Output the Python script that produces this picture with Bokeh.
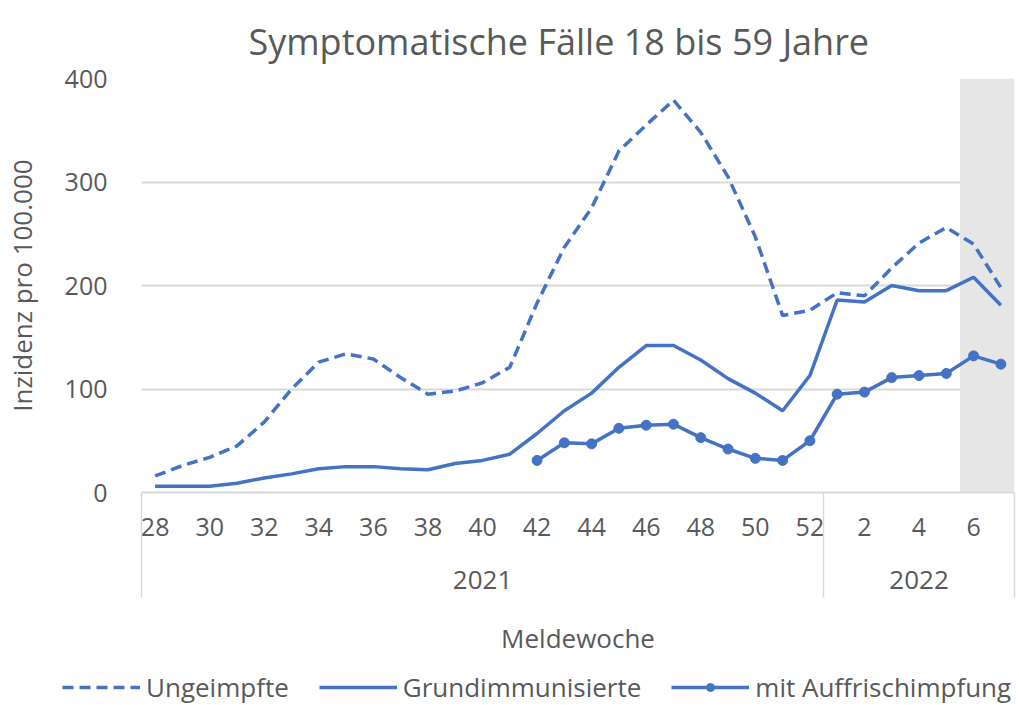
import numpy as np
from bokeh.plotting import figure
from bokeh.layouts import column
from bokeh.models import (Range1d, LinearAxis, FixedTicker, BoxAnnotation,
                          Legend, LegendItem, ColumnDataSource)
from bokeh.embed import file_html
from bokeh.resources import INLINE

# ---------------- data ----------------
weeks = [28, 29, 30, 31, 32, 33, 34, 35, 36, 37, 38, 39, 40, 41, 42, 43, 44, 45,
         46, 47, 48, 49, 50, 51, 52, 1, 2, 3, 4, 5, 6, 7]
years = ["2021"] * 25 + ["2022"] * 7
ungeimpfte = [16, 26, 34, 45, 68, 100, 126, 134, 129, 111, 95, 98, 106, 121,
              183, 237, 275, 330, 355, 379, 348, 305, 247, 171, 176, 193,
              190, 217, 241, 256, 240, 198]
grundimmunisierte = [6, 6, 6, 9, 14, 18, 23, 25, 25, 23, 22, 28, 31, 37,
                     57, 79, 96, 121, 142, 142, 128, 110, 96, 79, 113, 186,
                     184, 200, 195, 195, 208, 181]
# booster series starts at week 42
auffrisch = [None] * 14 + [31, 48, 47, 62, 65, 66, 53, 42, 33, 31, 50, 95,
                           97, 111, 113, 115, 132, 124]
shaded_weeks = [("2022", 6), ("2022", 7)]
y_ticks = [0, 100, 200, 300, 400]

title = "Symptomatische Fälle 18 bis 59 Jahre"
y_label = "Inzidenz pro 100.000"
x_label = "Meldewoche"
names = ["Ungeimpfte", "Grundimmunisierte", "mit Auffrischimpfung"]

# ---------------- styling ----------------
BLUE = "#4472C4"
TXT = "#595959"
GRID = "#D9D9D9"
FONT = "Open Sans"

idx = list(range(len(weeks)))
n = len(weeks)

p = figure(frame_width=873, frame_height=414,
           min_border_left=139, min_border_right=7,
           min_border_top=78, min_border_bottom=173,
           x_range=Range1d(-0.5, n - 0.5), y_range=Range1d(0, 400),
           output_backend="svg", toolbar_location=None, title=title)
p.outline_line_color = None
p.background_fill_color = "white"
p.frame_align = False

p.title.text_font = FONT
p.title.text_font_size = "36px"
p.title.text_font_style = "normal"
p.title.text_color = TXT
p.title.align = "left"
p.title.offset = 107
p.title.standoff = 26

# grid
p.xgrid.grid_line_color = None
p.ygrid.grid_line_color = GRID
p.ygrid.grid_line_width = 2
p.ygrid.ticker = FixedTicker(ticks=y_ticks)

# shaded region
sh = [i for i in idx if (years[i], weeks[i]) in shaded_weeks]
p.add_layout(BoxAnnotation(left=min(sh) - 0.5, right=max(sh) + 0.5,
                           fill_color="#E6E6E6", fill_alpha=1.0,
                           line_color=None, level="underlay"))

# y axis
p.yaxis.ticker = FixedTicker(ticks=y_ticks)
p.yaxis.axis_line_color = None
p.yaxis.major_tick_line_color = None
p.yaxis.major_tick_out = 0
p.yaxis.minor_tick_line_color = None
p.yaxis.minor_tick_out = 0
p.yaxis.major_label_text_font = FONT
p.yaxis.major_label_text_font_size = "25px"
p.yaxis.major_label_text_color = TXT
p.yaxis.major_label_standoff = 34
p.yaxis.axis_label = y_label
p.yaxis.axis_label_text_font = FONT
p.yaxis.axis_label_text_font_size = "26px"
p.yaxis.axis_label_text_font_style = "normal"
p.yaxis.axis_label_text_color = TXT
p.yaxis.axis_label_standoff = 22

# x axis: weeks
even = [i for i in idx if weeks[i] % 2 == 0]
boundaries = [-0.5] + [i + 0.5 for i in idx[:-1] if years[i] != years[i + 1]] + [n - 0.5]
xa = p.xaxis[0]
xa.ticker = FixedTicker(ticks=even)
xa.major_label_overrides = {i: str(weeks[i]) for i in even}
xa.axis_line_color = GRID
xa.axis_line_width = 2
xa.major_tick_line_color = None
xa.major_tick_out = 0
xa.minor_tick_line_color = None
xa.minor_tick_out = 0
xa.major_label_text_font = FONT
xa.major_label_text_font_size = "25px"
xa.major_label_text_color = TXT
xa.major_label_standoff = 25

# x axis: years (its minor ticks are the group separators)
yrs = sorted(set(years))
centers = {}
for y in yrs:
    ii = [i for i in idx if years[i] == y]
    centers[(min(ii) + max(ii)) / 2] = y
ya = LinearAxis(ticker=FixedTicker(ticks=list(centers.keys()), minor_ticks=boundaries),
                major_label_overrides=centers)
ya.axis_line_color = None
ya.major_tick_line_color = None
ya.major_tick_out = 0
ya.major_tick_in = 0
ya.minor_tick_line_color = GRID
ya.minor_tick_line_width = 1.5
ya.minor_tick_in = 46
ya.minor_tick_out = 59
ya.major_label_text_font = FONT
ya.major_label_text_font_size = "26px"
ya.major_label_text_color = TXT
ya.major_label_standoff = -27
ya.axis_label = x_label
ya.axis_label_text_font = FONT
ya.axis_label_text_font_size = "26px"
ya.axis_label_text_font_style = "normal"
ya.axis_label_text_color = TXT
ya.axis_label_standoff = 28
p.add_layout(ya, "below")

# series
src = ColumnDataSource(dict(x=idx, u=ungeimpfte, g=grundimmunisierte,
                            a=[np.nan if v is None else v for v in auffrisch]))
line_u = dict(line_color=BLUE, line_width=3.5, line_dash="11 6")
line_s = dict(line_color=BLUE, line_width=3.5)
mark = dict(size=10, marker="circle", fill_color=BLUE, line_color=BLUE)
p.line("x", "u", source=src, **line_u)
p.line("x", "g", source=src, **line_s)
p.line("x", "a", source=src, **line_s)
p.scatter("x", "a", source=src, **mark)

# legend strip below the chart (same series, ranges chosen so only the legend shows)
lg = figure(width=1019, height=40, min_border=0, x_axis_type=None, y_axis_type=None,
            x_range=Range1d(-0.5, n - 0.5), y_range=Range1d(-2, -1),
            output_backend="svg", toolbar_location=None)
lg.outline_line_color = None
lg.grid.visible = False
lg.frame_align = False
l1 = lg.line("x", "u", source=src, **line_u)
l2 = lg.line("x", "g", source=src, **line_s)
l3 = lg.line("x", "a", source=src, **line_s)
l3m = lg.scatter("x", "a", source=src, **mark)
legend = Legend(items=[LegendItem(label=names[0], renderers=[l1]),
                       LegendItem(label=names[1], renderers=[l2]),
                       LegendItem(label=names[2], renderers=[l3, l3m])],
                orientation="horizontal", location=(62, 0),
                label_text_font=FONT, label_text_font_size="26px",
                label_text_color=TXT, glyph_width=78, glyph_height=20,
                spacing=30, label_standoff=6, border_line_color=None,
                padding=0, margin=0, background_fill_alpha=0)
lg.add_layout(legend)

open("out.html", "w").write(file_html(column(p, lg), INLINE))
